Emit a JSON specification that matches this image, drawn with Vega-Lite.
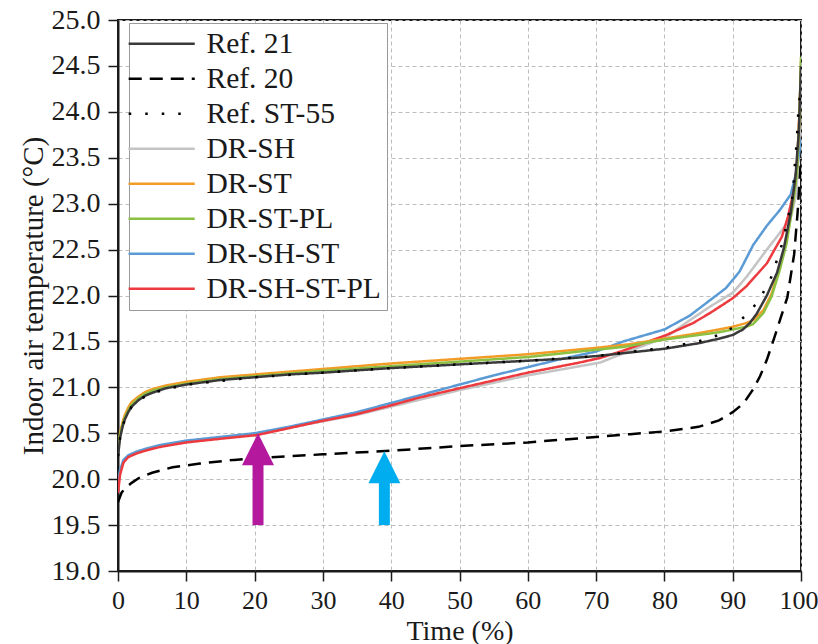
{
  "$schema": "https://vega.github.io/schema/vega-lite/v6.json",
  "width": 683,
  "height": 551,
  "autosize": {"type": "none"},
  "padding": {"left": 118, "top": 20, "right": 17, "bottom": 73},
  "background": "white",
  "config": {
    "font": "Liberation Serif",
    "view": {"stroke": "#1a1a1a", "strokeWidth": 2},
    "style": {
      "guide-label": {"font": "Liberation Serif"},
      "guide-title": {"font": "Liberation Serif"}
    },
    "axis": {
      "domainColor": "#1a1a1a", "domainWidth": 2,
      "tickColor": "#1a1a1a", "tickWidth": 1.5,
      "labelFont": "Liberation Serif", "labelFontSize": 27, "labelColor": "#1a1a1a",
      "titleFont": "Liberation Serif", "titleFontSize": 28, "titleFontWeight": "normal", "titleColor": "#1a1a1a",
      "gridColor": "#bdbdbd", "gridDash": [4, 3], "gridWidth": 1
    },
    "legend": {"labelFont": "Liberation Serif"}
  },
  "datasets": {
    "lines": [
      {"series": "DR-SH", "t": 0, "v": 19.9}, {"series": "DR-SH", "t": 0.3, "v": 20.07}, {"series": "DR-SH", "t": 0.8, "v": 20.19}, {"series": "DR-SH", "t": 1.5, "v": 20.25}, {"series": "DR-SH", "t": 2.7, "v": 20.29}, {"series": "DR-SH", "t": 4, "v": 20.32}, {"series": "DR-SH", "t": 6, "v": 20.36}, {"series": "DR-SH", "t": 10, "v": 20.41}, {"series": "DR-SH", "t": 15, "v": 20.45}, {"series": "DR-SH", "t": 20, "v": 20.49}, {"series": "DR-SH", "t": 25, "v": 20.56}, {"series": "DR-SH", "t": 30, "v": 20.63}, {"series": "DR-SH", "t": 35, "v": 20.7}, {"series": "DR-SH", "t": 40, "v": 20.79}, {"series": "DR-SH", "t": 45, "v": 20.88}, {"series": "DR-SH", "t": 50, "v": 20.97}, {"series": "DR-SH", "t": 60, "v": 21.13}, {"series": "DR-SH", "t": 67.6, "v": 21.23}, {"series": "DR-SH", "t": 70.6, "v": 21.27}, {"series": "DR-SH", "t": 74, "v": 21.37}, {"series": "DR-SH", "t": 80.3, "v": 21.55}, {"series": "DR-SH", "t": 83.7, "v": 21.73}, {"series": "DR-SH", "t": 86.7, "v": 21.88}, {"series": "DR-SH", "t": 90, "v": 22.03}, {"series": "DR-SH", "t": 92, "v": 22.2}, {"series": "DR-SH", "t": 95, "v": 22.5}, {"series": "DR-SH", "t": 97.2, "v": 22.71}, {"series": "DR-SH", "t": 98.5, "v": 22.85}, {"series": "DR-SH", "t": 99.3, "v": 23.1}, {"series": "DR-SH", "t": 100, "v": 24.0},

      {"series": "DR-SH-ST", "t": 0, "v": 19.95}, {"series": "DR-SH-ST", "t": 0.3, "v": 20.1}, {"series": "DR-SH-ST", "t": 0.8, "v": 20.21}, {"series": "DR-SH-ST", "t": 1.5, "v": 20.26}, {"series": "DR-SH-ST", "t": 2.7, "v": 20.3}, {"series": "DR-SH-ST", "t": 4, "v": 20.33}, {"series": "DR-SH-ST", "t": 6, "v": 20.37}, {"series": "DR-SH-ST", "t": 10, "v": 20.42}, {"series": "DR-SH-ST", "t": 15, "v": 20.46}, {"series": "DR-SH-ST", "t": 20, "v": 20.5}, {"series": "DR-SH-ST", "t": 25, "v": 20.57}, {"series": "DR-SH-ST", "t": 30, "v": 20.65}, {"series": "DR-SH-ST", "t": 35, "v": 20.73}, {"series": "DR-SH-ST", "t": 40, "v": 20.83}, {"series": "DR-SH-ST", "t": 45, "v": 20.93}, {"series": "DR-SH-ST", "t": 50, "v": 21.03}, {"series": "DR-SH-ST", "t": 55, "v": 21.13}, {"series": "DR-SH-ST", "t": 60, "v": 21.22}, {"series": "DR-SH-ST", "t": 65, "v": 21.31}, {"series": "DR-SH-ST", "t": 70, "v": 21.39}, {"series": "DR-SH-ST", "t": 74, "v": 21.5}, {"series": "DR-SH-ST", "t": 80, "v": 21.63}, {"series": "DR-SH-ST", "t": 83.7, "v": 21.78}, {"series": "DR-SH-ST", "t": 86.7, "v": 21.95}, {"series": "DR-SH-ST", "t": 89, "v": 22.08}, {"series": "DR-SH-ST", "t": 91, "v": 22.26}, {"series": "DR-SH-ST", "t": 93, "v": 22.55}, {"series": "DR-SH-ST", "t": 95, "v": 22.76}, {"series": "DR-SH-ST", "t": 96.9, "v": 22.93}, {"series": "DR-SH-ST", "t": 98.5, "v": 23.1}, {"series": "DR-SH-ST", "t": 99.4, "v": 23.37}, {"series": "DR-SH-ST", "t": 100, "v": 23.7},

      {"series": "DR-SH-ST-PL", "t": 0, "v": 19.85}, {"series": "DR-SH-ST-PL", "t": 0.3, "v": 20.05}, {"series": "DR-SH-ST-PL", "t": 0.8, "v": 20.18}, {"series": "DR-SH-ST-PL", "t": 1.5, "v": 20.24}, {"series": "DR-SH-ST-PL", "t": 2.7, "v": 20.28}, {"series": "DR-SH-ST-PL", "t": 4, "v": 20.31}, {"series": "DR-SH-ST-PL", "t": 6.1, "v": 20.35}, {"series": "DR-SH-ST-PL", "t": 10, "v": 20.4}, {"series": "DR-SH-ST-PL", "t": 15, "v": 20.44}, {"series": "DR-SH-ST-PL", "t": 20.3, "v": 20.48}, {"series": "DR-SH-ST-PL", "t": 24.7, "v": 20.55}, {"series": "DR-SH-ST-PL", "t": 29.6, "v": 20.63}, {"series": "DR-SH-ST-PL", "t": 34.5, "v": 20.7}, {"series": "DR-SH-ST-PL", "t": 39.3, "v": 20.79}, {"series": "DR-SH-ST-PL", "t": 44.2, "v": 20.89}, {"series": "DR-SH-ST-PL", "t": 50, "v": 20.99}, {"series": "DR-SH-ST-PL", "t": 60, "v": 21.16}, {"series": "DR-SH-ST-PL", "t": 67.6, "v": 21.27}, {"series": "DR-SH-ST-PL", "t": 70.6, "v": 21.32}, {"series": "DR-SH-ST-PL", "t": 74, "v": 21.4}, {"series": "DR-SH-ST-PL", "t": 80.3, "v": 21.57}, {"series": "DR-SH-ST-PL", "t": 84.2, "v": 21.7}, {"series": "DR-SH-ST-PL", "t": 86.7, "v": 21.81}, {"series": "DR-SH-ST-PL", "t": 90, "v": 21.97}, {"series": "DR-SH-ST-PL", "t": 92, "v": 22.1}, {"series": "DR-SH-ST-PL", "t": 95, "v": 22.35}, {"series": "DR-SH-ST-PL", "t": 97.2, "v": 22.64}, {"series": "DR-SH-ST-PL", "t": 98.1, "v": 22.86}, {"series": "DR-SH-ST-PL", "t": 99.1, "v": 23.19}, {"series": "DR-SH-ST-PL", "t": 99.5, "v": 23.51}, {"series": "DR-SH-ST-PL", "t": 100, "v": 24.42},

      {"series": "DR-ST", "t": 0, "v": 20.3}, {"series": "DR-ST", "t": 0.3, "v": 20.5}, {"series": "DR-ST", "t": 0.7, "v": 20.63}, {"series": "DR-ST", "t": 1, "v": 20.7}, {"series": "DR-ST", "t": 1.5, "v": 20.78}, {"series": "DR-ST", "t": 2, "v": 20.84}, {"series": "DR-ST", "t": 3, "v": 20.9}, {"series": "DR-ST", "t": 4, "v": 20.95}, {"series": "DR-ST", "t": 5, "v": 20.98}, {"series": "DR-ST", "t": 7, "v": 21.02}, {"series": "DR-ST", "t": 10, "v": 21.06}, {"series": "DR-ST", "t": 15, "v": 21.11}, {"series": "DR-ST", "t": 20, "v": 21.14}, {"series": "DR-ST", "t": 30, "v": 21.2}, {"series": "DR-ST", "t": 40, "v": 21.26}, {"series": "DR-ST", "t": 50, "v": 21.31}, {"series": "DR-ST", "t": 60, "v": 21.36}, {"series": "DR-ST", "t": 70, "v": 21.43}, {"series": "DR-ST", "t": 75, "v": 21.47}, {"series": "DR-ST", "t": 80, "v": 21.53}, {"series": "DR-ST", "t": 85, "v": 21.59}, {"series": "DR-ST", "t": 88, "v": 21.63}, {"series": "DR-ST", "t": 90, "v": 21.66}, {"series": "DR-ST", "t": 92, "v": 21.7}, {"series": "DR-ST", "t": 93, "v": 21.73}, {"series": "DR-ST", "t": 94.5, "v": 21.84}, {"series": "DR-ST", "t": 95.7, "v": 22.02}, {"series": "DR-ST", "t": 96.9, "v": 22.31}, {"series": "DR-ST", "t": 97.9, "v": 22.6}, {"series": "DR-ST", "t": 98.9, "v": 23.07}, {"series": "DR-ST", "t": 99.4, "v": 23.36}, {"series": "DR-ST", "t": 99.8, "v": 24.0}, {"series": "DR-ST", "t": 100, "v": 24.55},

      {"series": "DR-ST-PL", "t": 0, "v": 20.3}, {"series": "DR-ST-PL", "t": 0.3, "v": 20.48}, {"series": "DR-ST-PL", "t": 0.7, "v": 20.6}, {"series": "DR-ST-PL", "t": 1, "v": 20.67}, {"series": "DR-ST-PL", "t": 1.5, "v": 20.75}, {"series": "DR-ST-PL", "t": 2, "v": 20.81}, {"series": "DR-ST-PL", "t": 3, "v": 20.88}, {"series": "DR-ST-PL", "t": 4, "v": 20.93}, {"series": "DR-ST-PL", "t": 5, "v": 20.96}, {"series": "DR-ST-PL", "t": 7, "v": 21.0}, {"series": "DR-ST-PL", "t": 10, "v": 21.04}, {"series": "DR-ST-PL", "t": 15, "v": 21.09}, {"series": "DR-ST-PL", "t": 20, "v": 21.12}, {"series": "DR-ST-PL", "t": 30, "v": 21.18}, {"series": "DR-ST-PL", "t": 40, "v": 21.23}, {"series": "DR-ST-PL", "t": 50, "v": 21.28}, {"series": "DR-ST-PL", "t": 60, "v": 21.33}, {"series": "DR-ST-PL", "t": 67.6, "v": 21.39}, {"series": "DR-ST-PL", "t": 74, "v": 21.44}, {"series": "DR-ST-PL", "t": 80, "v": 21.52}, {"series": "DR-ST-PL", "t": 85, "v": 21.57}, {"series": "DR-ST-PL", "t": 88, "v": 21.6}, {"series": "DR-ST-PL", "t": 90, "v": 21.63}, {"series": "DR-ST-PL", "t": 92, "v": 21.66}, {"series": "DR-ST-PL", "t": 93, "v": 21.69}, {"series": "DR-ST-PL", "t": 94.5, "v": 21.81}, {"series": "DR-ST-PL", "t": 95.7, "v": 21.99}, {"series": "DR-ST-PL", "t": 96.9, "v": 22.28}, {"series": "DR-ST-PL", "t": 97.9, "v": 22.57}, {"series": "DR-ST-PL", "t": 98.9, "v": 23.04}, {"series": "DR-ST-PL", "t": 99.4, "v": 23.33}, {"series": "DR-ST-PL", "t": 99.8, "v": 24.0}, {"series": "DR-ST-PL", "t": 100, "v": 24.6},

      {"series": "Ref. 21", "t": 0, "v": 20.25}, {"series": "Ref. 21", "t": 0.3, "v": 20.45}, {"series": "Ref. 21", "t": 0.7, "v": 20.58}, {"series": "Ref. 21", "t": 1, "v": 20.65}, {"series": "Ref. 21", "t": 1.5, "v": 20.73}, {"series": "Ref. 21", "t": 2, "v": 20.79}, {"series": "Ref. 21", "t": 3, "v": 20.86}, {"series": "Ref. 21", "t": 4, "v": 20.91}, {"series": "Ref. 21", "t": 5, "v": 20.94}, {"series": "Ref. 21", "t": 7, "v": 20.99}, {"series": "Ref. 21", "t": 10, "v": 21.03}, {"series": "Ref. 21", "t": 15, "v": 21.08}, {"series": "Ref. 21", "t": 20, "v": 21.11}, {"series": "Ref. 21", "t": 25, "v": 21.14}, {"series": "Ref. 21", "t": 30, "v": 21.16}, {"series": "Ref. 21", "t": 40, "v": 21.21}, {"series": "Ref. 21", "t": 50, "v": 21.25}, {"series": "Ref. 21", "t": 60, "v": 21.29}, {"series": "Ref. 21", "t": 65, "v": 21.31}, {"series": "Ref. 21", "t": 70, "v": 21.34}, {"series": "Ref. 21", "t": 75, "v": 21.38}, {"series": "Ref. 21", "t": 80, "v": 21.42}, {"series": "Ref. 21", "t": 85, "v": 21.48}, {"series": "Ref. 21", "t": 88, "v": 21.53}, {"series": "Ref. 21", "t": 90, "v": 21.57}, {"series": "Ref. 21", "t": 91.5, "v": 21.63}, {"series": "Ref. 21", "t": 92.5, "v": 21.7}, {"series": "Ref. 21", "t": 93.5, "v": 21.8}, {"series": "Ref. 21", "t": 95, "v": 22.0}, {"series": "Ref. 21", "t": 96.5, "v": 22.25}, {"series": "Ref. 21", "t": 97.5, "v": 22.52}, {"series": "Ref. 21", "t": 98.5, "v": 22.9}, {"series": "Ref. 21", "t": 99.2, "v": 23.3}, {"series": "Ref. 21", "t": 99.7, "v": 23.8}, {"series": "Ref. 21", "t": 100, "v": 24.5},

      {"series": "Ref. ST-55", "t": 0, "v": 20.25}, {"series": "Ref. ST-55", "t": 0.3, "v": 20.45}, {"series": "Ref. ST-55", "t": 0.7, "v": 20.58}, {"series": "Ref. ST-55", "t": 1, "v": 20.65}, {"series": "Ref. ST-55", "t": 2, "v": 20.79}, {"series": "Ref. ST-55", "t": 3, "v": 20.86}, {"series": "Ref. ST-55", "t": 5, "v": 20.94}, {"series": "Ref. ST-55", "t": 10, "v": 21.03}, {"series": "Ref. ST-55", "t": 20, "v": 21.11}, {"series": "Ref. ST-55", "t": 30, "v": 21.16}, {"series": "Ref. ST-55", "t": 40, "v": 21.21}, {"series": "Ref. ST-55", "t": 50, "v": 21.25}, {"series": "Ref. ST-55", "t": 60, "v": 21.29}, {"series": "Ref. ST-55", "t": 70, "v": 21.34}, {"series": "Ref. ST-55", "t": 80, "v": 21.43}, {"series": "Ref. ST-55", "t": 85, "v": 21.5}, {"series": "Ref. ST-55", "t": 88, "v": 21.57}, {"series": "Ref. ST-55", "t": 90, "v": 21.65}, {"series": "Ref. ST-55", "t": 92, "v": 21.79}, {"series": "Ref. ST-55", "t": 93.7, "v": 21.93}, {"series": "Ref. ST-55", "t": 95.5, "v": 22.17}, {"series": "Ref. ST-55", "t": 97, "v": 22.5}, {"series": "Ref. ST-55", "t": 98, "v": 22.8}, {"series": "Ref. ST-55", "t": 98.8, "v": 23.1}, {"series": "Ref. ST-55", "t": 99.1, "v": 23.42}, {"series": "Ref. ST-55", "t": 99.4, "v": 23.7}, {"series": "Ref. ST-55", "t": 99.6, "v": 23.99}, {"series": "Ref. ST-55", "t": 99.8, "v": 24.15}, {"series": "Ref. ST-55", "t": 100, "v": 24.3},

      {"series": "Ref. 20", "t": 0, "v": 19.75}, {"series": "Ref. 20", "t": 0.5, "v": 19.85}, {"series": "Ref. 20", "t": 1, "v": 19.9}, {"series": "Ref. 20", "t": 2, "v": 19.96}, {"series": "Ref. 20", "t": 3, "v": 20.01}, {"series": "Ref. 20", "t": 5, "v": 20.07}, {"series": "Ref. 20", "t": 8, "v": 20.13}, {"series": "Ref. 20", "t": 12, "v": 20.17}, {"series": "Ref. 20", "t": 17, "v": 20.21}, {"series": "Ref. 20", "t": 25, "v": 20.25}, {"series": "Ref. 20", "t": 30, "v": 20.27}, {"series": "Ref. 20", "t": 40, "v": 20.31}, {"series": "Ref. 20", "t": 50, "v": 20.36}, {"series": "Ref. 20", "t": 60, "v": 20.4}, {"series": "Ref. 20", "t": 70, "v": 20.46}, {"series": "Ref. 20", "t": 75, "v": 20.49}, {"series": "Ref. 20", "t": 80, "v": 20.52}, {"series": "Ref. 20", "t": 85, "v": 20.57}, {"series": "Ref. 20", "t": 88, "v": 20.64}, {"series": "Ref. 20", "t": 90, "v": 20.73}, {"series": "Ref. 20", "t": 91, "v": 20.79}, {"series": "Ref. 20", "t": 92, "v": 20.87}, {"series": "Ref. 20", "t": 93, "v": 20.98}, {"series": "Ref. 20", "t": 94, "v": 21.12}, {"series": "Ref. 20", "t": 95, "v": 21.3}, {"series": "Ref. 20", "t": 96, "v": 21.52}, {"series": "Ref. 20", "t": 97, "v": 21.75}, {"series": "Ref. 20", "t": 98, "v": 21.98}, {"series": "Ref. 20", "t": 99, "v": 22.45}, {"series": "Ref. 20", "t": 99.5, "v": 22.9}, {"series": "Ref. 20", "t": 100, "v": 23.5}
    ],
    "arrows": [
      {"arrow": "magenta", "t": 20.5, "base": 19.5, "neck": 20.17, "head": 20.325},
      {"arrow": "cyan", "t": 39.0, "base": 19.5, "neck": 19.98, "head": 20.13}
    ]
  },
  "layer": [
    {
      "data": {"name": "lines"},
      "mark": {"type": "line", "strokeWidth": 2.5, "clip": true, "interpolate": "linear"},
      "encoding": {
        "x": {
          "field": "t", "type": "quantitative",
          "scale": {"domain": [0, 100], "nice": false, "zero": false},
          "axis": {
            "title": "Time (%)", "values": [0, 10, 20, 30, 40, 50, 60, 70, 80, 90, 100],
            "labelFont": "Liberation Serif", "labelFontSize": 26,
            "labelAlign": {"condition": {"test": "datum.value === 100", "value": "right"}, "value": "center"},
            "labelOffset": {"condition": {"test": "datum.value === 100", "value": 17}, "value": 0},
            "titleFont": "Liberation Serif",
            "tickSize": 10, "labelPadding": 6, "titlePadding": 4, "labelFlush": false, "labelOverlap": false
          }
        },
        "y": {
          "field": "v", "type": "quantitative",
          "scale": {"domain": [19, 25], "nice": false, "zero": false},
          "axis": {
            "title": "Indoor air temperature (°C)",
            "values": [19, 19.25, 19.5, 19.75, 20, 20.25, 20.5, 20.75, 21, 21.25, 21.5, 21.75, 22, 22.25, 22.5, 22.75, 23, 23.25, 23.5, 23.75, 24, 24.25, 24.5, 24.75, 25],
            "labelExpr": "(datum.value * 4) % 2 === 0 ? format(datum.value, '.1f') : ''",
            "labelFont": "Liberation Serif", "labelFontSize": 28,
            "titleFont": "Liberation Serif", "titleFontSize": 29,
            "tickSize": {"condition": {"test": "(datum.value * 4) % 2 === 0", "value": 10}, "value": 6},
            "gridOpacity": {"condition": {"test": "(datum.value * 4) % 2 === 0", "value": 1}, "value": 0},
            "labelPadding": 8, "titlePadding": 3, "labelFlush": false, "labelOverlap": false
          }
        },
        "color": {
          "field": "series", "type": "nominal",
          "scale": {
            "domain": ["Ref. 21", "Ref. 20", "Ref. ST-55", "DR-SH", "DR-ST", "DR-ST-PL", "DR-SH-ST", "DR-SH-ST-PL"],
            "range": ["#3a3a3a", "#000000", "#000000", "#c4c4c4", "#f29b26", "#8cc043", "#5b9bd5", "#ec3a3f"]
          },
          "legend": {
            "title": null, "orient": "none", "legendX": 11, "legendY": 3,
            "padding": 6, "rowPadding": 4,
            "strokeColor": "#9a9a9a", "fillColor": "white",
            "symbolType": "M-3,0L3,0", "symbolSize": 484, "symbolStrokeWidth": 2.5,
            "symbolOffset": 12, "labelOffset": 30, "labelLimit": 400,
            "labelFont": "Liberation Serif", "labelFontSize": 29.5, "labelColor": "#1a1a1a",
            "encode": {"symbols": {"update": {"strokeDash": {"signal": "datum.value === 'Ref. 20' ? [13, 8] : datum.value === 'Ref. ST-55' ? [2.5, 14] : [1, 0]"}}}}
          }
        },
        "strokeDash": {
          "field": "series", "type": "nominal",
          "scale": {
            "domain": ["Ref. 21", "Ref. 20", "Ref. ST-55", "DR-SH", "DR-ST", "DR-ST-PL", "DR-SH-ST", "DR-SH-ST-PL"],
            "range": [[1, 0], [13, 8], [2.5, 14], [1, 0], [1, 0], [1, 0], [1, 0], [1, 0]]
          },
          "legend": {
            "title": null, "orient": "none", "legendX": 11, "legendY": 3,
            "padding": 6, "rowPadding": 4,
            "strokeColor": "#9a9a9a", "fillColor": "white",
            "symbolType": "M-3,0L3,0", "symbolSize": 484, "symbolStrokeWidth": 2.5,
            "symbolOffset": 12, "labelOffset": 30, "labelLimit": 400,
            "labelFont": "Liberation Serif", "labelFontSize": 29.5, "labelColor": "#1a1a1a",
            "encode": {"symbols": {"update": {"strokeDash": {"signal": "datum.value === 'Ref. 20' ? [13, 8] : datum.value === 'Ref. ST-55' ? [2.5, 14] : [1, 0]"}}}}
          }
        }
      }
    },
    {
      "data": {"name": "arrows"},
      "mark": {"type": "rule", "strokeWidth": 11, "strokeCap": "butt"},
      "encoding": {
        "x": {"field": "t", "type": "quantitative"},
        "y": {"field": "base", "type": "quantitative"},
        "y2": {"field": "neck"},
        "color": {"field": "arrow", "type": "nominal", "scale": {"domain": ["magenta", "cyan"], "range": ["#b3189d", "#00aeef"]}, "legend": null}
      }
    },
    {
      "data": {"name": "arrows"},
      "mark": {"type": "point", "shape": "M0,-1L-1,1L1,1Z", "size": 1024, "filled": true, "opacity": 1, "strokeWidth": 0},
      "encoding": {
        "x": {"field": "t", "type": "quantitative"},
        "y": {"field": "head", "type": "quantitative"},
        "color": {"field": "arrow", "type": "nominal", "scale": {"domain": ["magenta", "cyan"], "range": ["#b3189d", "#00aeef"]}, "legend": null}
      }
    }
  ],
  "resolve": {"scale": {"color": "independent"}}
}
